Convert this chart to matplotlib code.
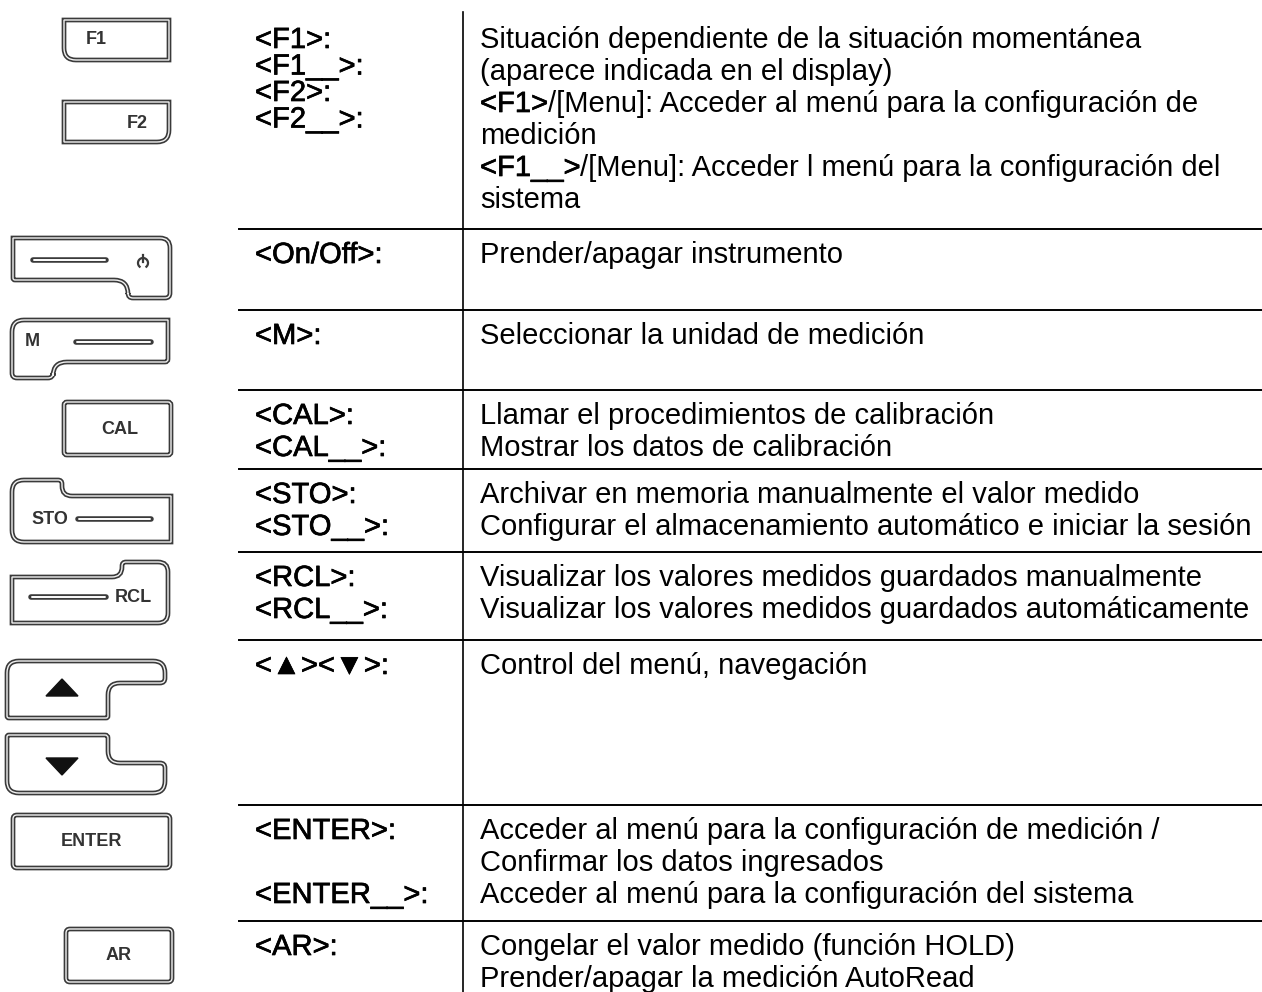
import matplotlib
matplotlib.use('Agg')
import matplotlib.pyplot as plt
import matplotlib.patheffects as pe
from matplotlib.path import Path
from matplotlib.patches import PathPatch, Arc, Polygon
import numpy as np

plt.rcParams['font.family'] = ['Liberation Sans', 'DejaVu Sans']

# --- table content (one entry per table row) ---
key_labels = [
    ['<F1>:', '<F1__>:', '<F2>:', '<F2__>:'],
    ['<On/Off>:'],
    ['<M>:'],
    ['<CAL>:', '<CAL__>:'],
    ['<STO>:', '<STO__>:'],
    ['<RCL>:', '<RCL__>:'],
    ['<▲><▼>:'],
    ['<ENTER>:', '', '<ENTER__>:'],
    ['<AR>:'],
]
# (bold part, normal part)
descriptions = [
    [('', 'Situación dependiente de la situación momentánea'),
     ('', '(aparece indicada en el display)'),
     ('<F1>', '/[Menu]: Acceder al menú para la configuración de'),
     ('', 'medición'),
     ('<F1__>', '/[Menu]: Acceder l menú para la configuración del'),
     ('', 'sistema')],
    [('', 'Prender/apagar instrumento')],
    [('', 'Seleccionar la unidad de medición')],
    [('', 'Llamar el procedimientos de calibración'),
     ('', 'Mostrar los datos de calibración')],
    [('', 'Archivar en memoria manualmente el valor medido'),
     ('', 'Configurar el almacenamiento automático e iniciar la sesión')],
    [('', 'Visualizar los valores medidos guardados manualmente'),
     ('', 'Visualizar los valores medidos guardados automáticamente')],
    [('', 'Control del menú, navegación')],
    [('', 'Acceder al menú para la configuración de medición /'),
     ('', 'Confirmar los datos ingresados'),
     ('', 'Acceder al menú para la configuración del sistema')],
    [('', 'Congelar el valor medido (función HOLD)'),
     ('', 'Prender/apagar la medición AutoRead')],
]
button_labels = ['F1', 'F2', 'M', 'CAL', 'STO', 'RCL', 'ENTER', 'AR']

# --- layout (pixels) ---
W, H = 1262, 992
row_lines = [None, 229, 310, 390, 469, 552, 640, 805, 921]
x_key, x_desc, x_sep = 255, 480, 463
fs = 21
semi = [pe.withStroke(linewidth=0.5, foreground='black')]

fig = plt.figure(figsize=(W / 100, H / 100), dpi=100)
ax = fig.add_axes([0, 0, 1, 1])
ax.set_xlim(0, W)
ax.set_ylim(H, 0)
ax.axis('off')
renderer = fig.canvas.get_renderer()

# grid lines
ax.plot([x_sep, x_sep], [12, H], color='black', lw=1.2)
for y in row_lines[1:]:
    ax.plot([239, W], [y, y], color='black', lw=1.4)

# text
for i, (keys, desc) in enumerate(zip(key_labels, descriptions)):
    top = 38 if i == 0 else row_lines[i] + 24
    kstep = 26.5 if i == 0 else 32
    for j, k in enumerate(keys):
        if k:
            ax.text(x_key, top + j * kstep + 10, k, fontsize=fs, va='baseline',
                    path_effects=semi)
    for j, (b, t) in enumerate(desc):
        y = top + j * 32 + 10
        x = x_desc
        if b:
            tb = ax.text(x, y, b, fontsize=fs, va='baseline', path_effects=semi)
            x += tb.get_window_extent(renderer=renderer).width
        ax.text(x, y, t, fontsize=fs, va='baseline')


# --- key drawings ---
def rpoly(pts, radii):
    verts, codes = [], []
    n = len(pts)
    for i in range(n):
        p = np.array(pts[i], float)
        r = radii[i]
        if r == 0:
            verts.append(p)
            codes.append(Path.MOVETO if i == 0 else Path.LINETO)
            continue
        pv = np.array(pts[i - 1], float)
        nx = np.array(pts[(i + 1) % n], float)
        a = p + (pv - p) / np.linalg.norm(pv - p) * r
        b = p + (nx - p) / np.linalg.norm(nx - p) * r
        verts += [a, p, b]
        codes += [Path.MOVETO if i == 0 else Path.LINETO, Path.CURVE3, Path.CURVE3]
    verts.append(verts[0])
    codes.append(Path.CLOSEPOLY)
    return Path(verts, codes)


def key(pts, radii):
    path = rpoly(pts, radii)
    ax.add_patch(PathPatch(path, facecolor='white', edgecolor='#3a3a3a', lw=3.4))
    ax.add_patch(PathPatch(path, facecolor='none', edgecolor='#f2f2f2', lw=1.0))


def slot(x0, x1, y):
    ax.plot([x0, x1], [y, y], color='#3a3a3a', lw=4.0, solid_capstyle='round')
    ax.plot([x0 + 1, x1 - 1], [y, y], color='white', lw=1.4, solid_capstyle='round')


def label(x, y, s):
    ax.text(x, y, s, fontsize=13, fontweight='bold', color='#333333',
            ha='center', va='center')


key([(64, 20), (169, 20), (169, 60), (64, 60)], [0, 0, 0, 12])
label(96, 39, button_labels[0])
key([(64, 102), (169, 102), (169, 142), (64, 142)], [0, 0, 12, 0])
label(137, 123, button_labels[1])

key([(13, 238), (170, 238), (170, 298), (128, 298), (128, 280), (13, 280)],
    [0, 10, 5, 5, 14, 2])
slot(33, 106, 260)
ax.add_patch(Arc((143, 263), 10, 10, theta1=120, theta2=420, color='#3a3a3a', lw=1.6))
ax.plot([143, 143], [255, 262], color='#3a3a3a', lw=1.6)

key([(12, 320), (168, 320), (168, 362), (53, 362), (53, 378), (12, 378)],
    [12, 0, 3, 14, 5, 5])
label(32, 341, button_labels[2])
slot(76, 151, 342)

key([(64, 402), (171, 402), (171, 455), (64, 455)], [3, 3, 3, 3])
label(120, 430, button_labels[3])

key([(12, 480), (62, 480), (62, 496), (171, 496), (171, 542), (12, 542)],
    [12, 4, 10, 0, 0, 12])
label(50, 520, button_labels[4])
slot(78, 151, 519)

key([(12, 577), (122, 577), (122, 562), (168, 562), (168, 623), (12, 623)],
    [0, 10, 4, 10, 10, 0])
label(133, 597, button_labels[5])
slot(31, 106, 597)

key([(7, 661), (165, 661), (165, 683), (108, 683), (108, 718), (7, 718)],
    [12, 12, 5, 12, 2, 2])
ax.add_patch(Polygon([(46, 696), (78, 696), (62, 679)], closed=True, color='#111111'))
key([(7, 735), (108, 735), (108, 763), (165, 763), (165, 793), (7, 793)],
    [2, 3, 12, 5, 12, 12])
ax.add_patch(Polygon([(46, 758), (78, 758), (62, 775)], closed=True, color='#111111'))

key([(13, 815), (170, 815), (170, 868), (13, 868)], [4, 4, 4, 4])
label(92, 842, button_labels[6])
key([(66, 929), (172, 929), (172, 982), (66, 982)], [4, 4, 4, 4])
label(119, 956, button_labels[7])

fig.savefig('out.png', dpi=100)
